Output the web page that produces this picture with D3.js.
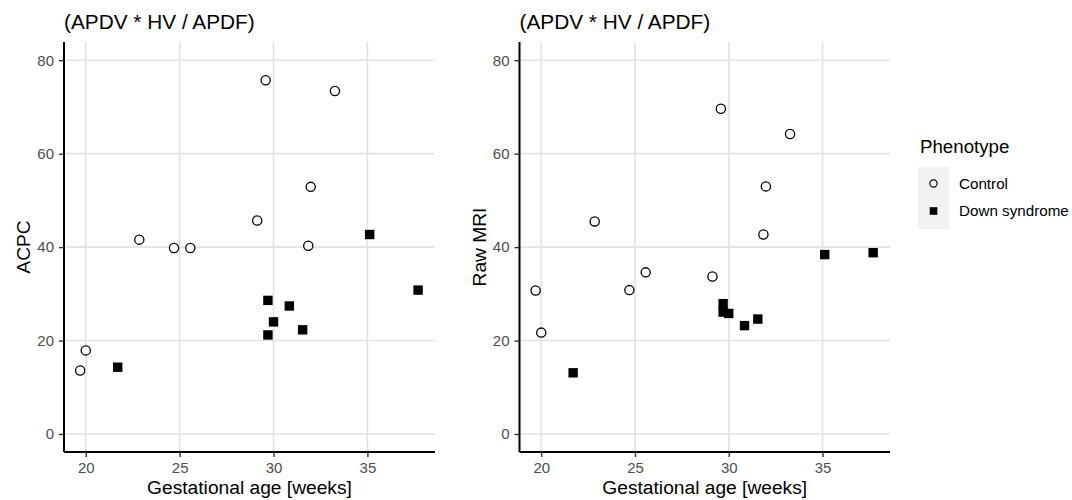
<!DOCTYPE html>
<html>
<head>
<meta charset="utf-8">
<script src="https://cdn.jsdelivr.net/npm/d3@7"></script>
<style>
  body { margin: 0; background: #fff; }
  text { font-family: "Liberation Sans", Arial, sans-serif; }
</style>
</head>
<body>
<div id="chart"></div>
<script>
// Chart size
const width = 1072;
const height = 500;

// Data: gestational age (weeks) per group, and values per panel
const controlAge = [19.7, 20.0, 22.85, 24.7, 25.57, 29.13, 29.58, 31.85, 31.98, 33.27];
const controlACPC = [13.6, 17.9, 41.6, 39.8, 39.8, 45.7, 75.7, 40.3, 52.9, 73.4];
const controlMRI = [30.7, 21.7, 45.5, 30.8, 34.6, 33.7, 69.6, 42.7, 53.0, 64.2];

const downAge = [21.7, 29.7, 29.7, 30.0, 30.84, 31.55, 35.12, 37.7];
const downACPC = [14.3, 28.6, 21.2, 24.0, 27.4, 22.3, 42.7, 30.8];
const downMRI = [13.1, 27.9, 26.1, 25.8, 23.2, 24.6, 38.4, 38.8];

const xTicks = [20, 25, 30, 35];
const yTicks = [0, 20, 40, 60, 80];
const groups = ["Control", "Down syndrome"];

const svg = d3.select("#chart")
    .append("svg")
    .attr("width", width)
    .attr("height", height);

function drawPanel(left, right, yLabel, ctrlVals, downVals) {
    const top = 42, bottom = 452;
    const x = d3.scaleLinear().domain([18.84, 38.6]).range([left, right]);
    const y = d3.scaleLinear().domain([-3.85, 83.9]).range([bottom, top]);
    const g = svg.append("g");

    // grid lines
    g.selectAll(".gx").data(xTicks).enter().append("line")
        .attr("x1", d => x(d)).attr("x2", d => x(d))
        .attr("y1", top).attr("y2", bottom)
        .attr("stroke", "#e2e2e2").attr("stroke-width", 1.6);
    g.selectAll(".gy").data(yTicks).enter().append("line")
        .attr("x1", left).attr("x2", right)
        .attr("y1", d => y(d)).attr("y2", d => y(d))
        .attr("stroke", "#e2e2e2").attr("stroke-width", 1.6);

    // axes
    const xAxis = g.append("g")
        .attr("transform", `translate(0,${bottom})`)
        .call(d3.axisBottom(x).tickValues(xTicks).tickSize(5).tickPadding(5));
    const yAxis = g.append("g")
        .attr("transform", `translate(${left},0)`)
        .call(d3.axisLeft(y).tickValues(yTicks).tickSize(5).tickPadding(5));
    [xAxis, yAxis].forEach(a => {
        a.select(".domain").attr("stroke", "#000").attr("stroke-width", 2);
        a.selectAll(".tick line").attr("stroke", "#333").attr("stroke-width", 1.4);
        a.selectAll(".tick text")
            .attr("fill", "#4d4d4d")
            .style("font-size", "15px")
            .style("font-family", "'Liberation Sans', Arial, sans-serif");
    });
    xAxis.select(".domain").attr("d", `M${left},0H${right}`);
    yAxis.select(".domain").attr("d", `M0,${top}V${bottom}`);

    // titles
    g.append("text")
        .attr("x", left).attr("y", 29)
        .style("font-size", "20.8px")
        .text("(APDV * HV / APDF)");
    g.append("text")
        .attr("x", (left + right) / 2).attr("y", 494)
        .attr("text-anchor", "middle")
        .style("font-size", "19.2px")
        .text("Gestational age [weeks]");
    g.append("text")
        .attr("transform", `translate(${left - 34},${(top + bottom) / 2}) rotate(-90)`)
        .attr("text-anchor", "middle")
        .style("font-size", "19.2px")
        .text(yLabel);

    // points
    g.selectAll(".ctrl").data(controlAge).enter().append("circle")
        .attr("cx", d => x(d))
        .attr("cy", (d, i) => y(ctrlVals[i]))
        .attr("r", 4.6)
        .attr("fill", "#fff").attr("stroke", "#000").attr("stroke-width", 1.3);
    g.selectAll(".down").data(downAge).enter().append("rect")
        .attr("x", d => x(d) - 4.7)
        .attr("y", (d, i) => y(downVals[i]) - 4.7)
        .attr("width", 9.4).attr("height", 9.4)
        .attr("fill", "#000");
}

drawPanel(64, 435, "ACPC", controlACPC, downACPC);
drawPanel(519.5, 890, "Raw MRI", controlMRI, downMRI);

// legend
const legend = svg.append("g");
legend.append("text")
    .attr("x", 920).attr("y", 153)
    .style("font-size", "18.7px")
    .text("Phenotype");
legend.append("rect")
    .attr("x", 918).attr("y", 167).attr("width", 31).attr("height", 62)
    .attr("fill", "#f2f2f2");
const keyY = d3.scalePoint().domain(groups).range([183.5, 211]);
legend.append("circle")
    .attr("cx", 933.5).attr("cy", keyY("Control")).attr("r", 3.6)
    .attr("fill", "#fff").attr("stroke", "#000").attr("stroke-width", 1.2);
legend.append("rect")
    .attr("x", 933.5 - 3.8).attr("y", keyY("Down syndrome") - 3.8)
    .attr("width", 7.6).attr("height", 7.6).attr("fill", "#000");
legend.selectAll(".lt").data(groups).enter().append("text")
    .attr("x", 959).attr("y", d => keyY(d))
    .attr("dy", "0.35em")
    .style("font-size", "15.2px")
    .text(d => d);
</script>
</body>
</html>
